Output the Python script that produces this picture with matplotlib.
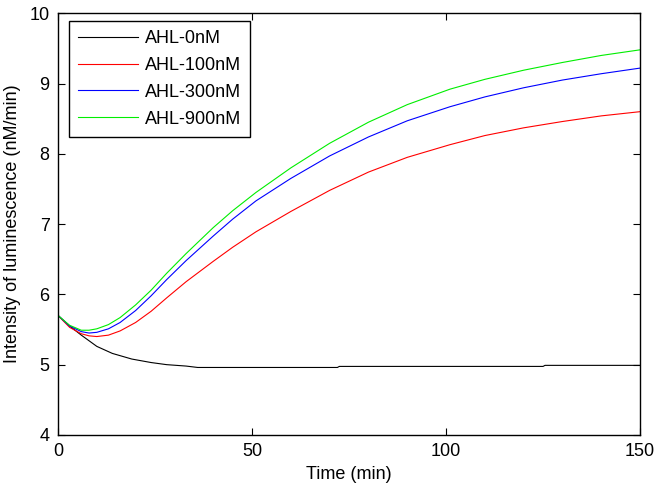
import matplotlib
matplotlib.use("Agg")
import matplotlib.pyplot as plt
import numpy as np

plt.rcParams['font.family'] = ['Liberation Sans', 'DejaVu Sans']

# values
t_on = [0, 3, 6, 8, 10, 13, 16, 20, 24, 28, 33, 40, 45, 51, 60, 70, 80, 90, 101, 110, 120, 130, 140, 150]
ahl900 = [5.70, 5.56, 5.49, 5.49, 5.51, 5.57, 5.67, 5.85, 6.06, 6.30, 6.58, 6.95, 7.19, 7.45, 7.80,
          8.15, 8.45, 8.70, 8.92, 9.06, 9.19, 9.30, 9.40, 9.48]
ahl300 = [5.70, 5.55, 5.47, 5.45, 5.46, 5.51, 5.60, 5.77, 5.98, 6.21, 6.48, 6.83, 7.07, 7.33, 7.65,
          7.97, 8.24, 8.47, 8.67, 8.81, 8.94, 9.05, 9.14, 9.22]
ahl100 = [5.70, 5.53, 5.44, 5.41, 5.40, 5.42, 5.48, 5.60, 5.76, 5.95, 6.18, 6.47, 6.67, 6.89, 7.18,
          7.48, 7.74, 7.95, 8.13, 8.26, 8.37, 8.46, 8.54, 8.60]

t_off = [0, 3, 6, 10, 14, 19, 24, 28, 33, 36, 72, 72.5, 125, 125.5, 150]
ahl0 = [5.70, 5.55, 5.42, 5.26, 5.16, 5.08, 5.03, 5.00, 4.98, 4.96, 4.96, 4.975, 4.975, 4.99, 4.99]

fig = plt.figure(figsize=(6.54, 4.92), dpi=100)
ax = fig.add_axes([0.0887, 0.116, 0.89, 0.857])

ax.plot(t_off, ahl0, color='k', lw=0.8, label="AHL-0nM")
ax.plot(t_on, ahl100, color='r', lw=0.8, label="AHL-100nM")
ax.plot(t_on, ahl300, color='b', lw=0.8, label="AHL-300nM")
ax.plot(t_on, ahl900, color='#00ee00', lw=0.8, label="AHL-900nM")

ax.set_xlim(0, 150)
ax.set_ylim(4, 10)
ax.set_xticks([0, 50, 100, 150])
ax.set_yticks([4, 5, 6, 7, 8, 9, 10])
ax.tick_params(direction='in', top=True, right=True, labelsize=13, length=5, pad=6)
for s in ax.spines.values():
    s.set_linewidth(1.0)

ax.set_xlabel("Time (min)", fontsize=13, labelpad=4)
ax.set_ylabel("Intensity of luminescence (nM/min)", fontsize=13, labelpad=6)

leg = ax.legend(loc='upper left', bbox_to_anchor=(0.019, 0.982), borderaxespad=0,
                fontsize=13, fancybox=False, edgecolor='k', framealpha=1,
                handlelength=3.3, labelspacing=0.55, handletextpad=0.4, borderpad=0.5)
leg.get_frame().set_linewidth(1.0)

fig.savefig("out.png", dpi=100)
